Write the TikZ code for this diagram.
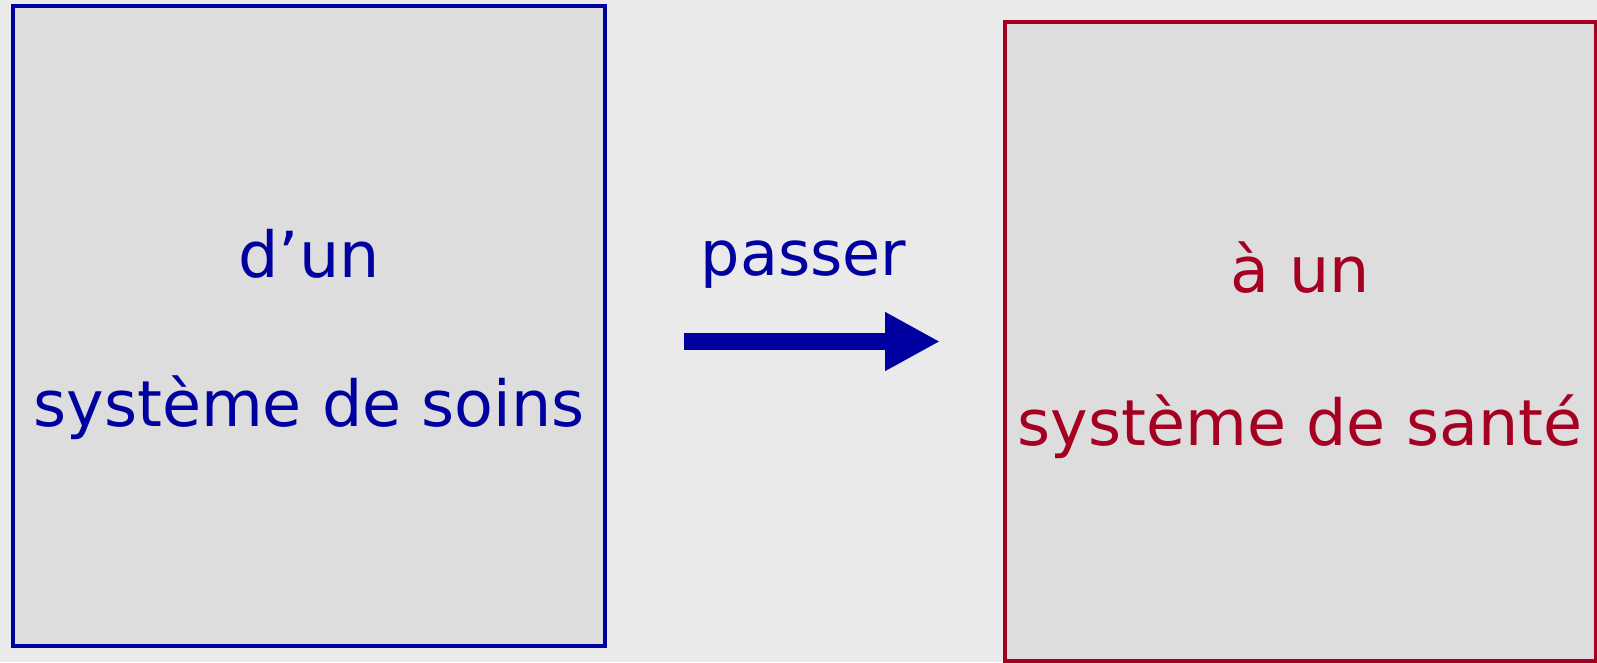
\documentclass[tikz,border=0pt]{standalone}
\usepackage{fontspec}
\setmainfont{DejaVu Sans}
\usetikzlibrary{arrows.meta}
\definecolor{bgc}{HTML}{EAEAEA}
\definecolor{boxfill}{HTML}{DDDDDD}
\definecolor{dblue}{HTML}{0000A0}
\definecolor{dred}{HTML}{A50021}
\begin{document}
\begin{tikzpicture}[x=1pt,y=-1pt,
  panel/.style={line width=4pt, fill=boxfill},
  bigtext/.style={anchor=base, inner sep=0pt, font=\fontsize{63.5}{70}\selectfont},
  verb/.style={anchor=base, inner sep=0pt, font=\fontsize{62}{70}\selectfont, text=dblue}]
\useasboundingbox (0,0) rectangle (1597,662);
\fill[bgc] (0,0) rectangle (1597,662);
\draw[panel, draw=dblue] (13,6) rectangle (605,646);
\draw[panel, draw=dred] (1004.5,21.5) rectangle (1595.5,660.5);
\node[bigtext, text=dblue] (l1) at (309,277) {d’un};
\node[bigtext, text=dblue] (l2) at (309,426) {système de soins};
\node[bigtext, text=dred] (r1) at (1300,292) {à un};
\node[bigtext, text=dred] (r2) at (1300,445) {système de santé};
\node[verb] (v) at (803.5,275) {passer};
\coordinate (as) at (684,341.5);
\coordinate (ae) at (940,341.5);
\draw[dblue, line width=17pt, -{Triangle[length=55pt, width=55pt]}] (as) -- (ae);
\end{tikzpicture}
\end{document}
